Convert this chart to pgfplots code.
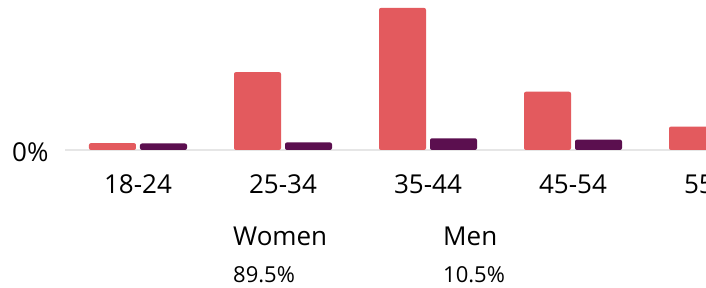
\documentclass[border=0pt]{standalone}
\usepackage{pgfplots}
\pgfplotsset{compat=1.18}
\usepackage{fontspec}
\setmainfont{Open Sans}
\definecolor{women}{HTML}{E35A5E}
\definecolor{men}{HTML}{5B0F4F}
\definecolor{base}{HTML}{E6E6E6}
\begin{document}
\begin{tikzpicture}
\useasboundingbox (0,0) rectangle (706pt,288pt);
\clip (0,0) rectangle (706pt,288pt);
\fill[white] (0,0) rectangle (706pt,288pt);
\draw[base, line width=1.5pt] (65pt,138pt) -- (706pt,138pt);
\begin{axis}[
  at={(0pt,138pt)}, anchor=south west,
  scale only axis, width=805pt, height=150pt,
  xmin=-0.9517, xmax=4.6, ymin=0, ymax=43.5,
  clip=false,
  ybar=4pt, bar width=47pt,
  axis line style={draw=none},
  major tick style={draw=none},
  ytick=\empty,
  xtick={0,1,2,3,4},
  xticklabels={18-24,25-34,35-44,45-54,55-64},
  /pgf/number format/assume math mode=true,
  xticklabel style={anchor=base, yshift=-39pt, font=\fontsize{26}{30}\selectfont, text=black},
]
\addplot[fill=women, draw=none, rounded corners=2pt] coordinates {(0,2.0) (1,22.6) (2,41.2) (3,16.9) (4,6.8)};
\addplot[fill=men, draw=none, rounded corners=2pt] coordinates {(0,1.9) (1,2.2) (2,3.4) (3,3.0)};
\end{axis}
\node[anchor=base west, inner sep=0, font=\fontsize{26}{30}\selectfont] at (12pt,126pt) {0\%};
\node[anchor=base west, inner sep=0, font=\fontsize{26}{30}\selectfont] at (233pt,42pt) {Women};
\node[anchor=base west, inner sep=0, font=\fontsize{22}{30}\selectfont] at (233pt,5pt) {89.5\%};
\node[anchor=base west, inner sep=0, font=\fontsize{26}{30}\selectfont] at (443pt,42pt) {Men};
\node[anchor=base west, inner sep=0, font=\fontsize{22}{30}\selectfont] at (443pt,5pt) {10.5\%};
\end{tikzpicture}
\end{document}
